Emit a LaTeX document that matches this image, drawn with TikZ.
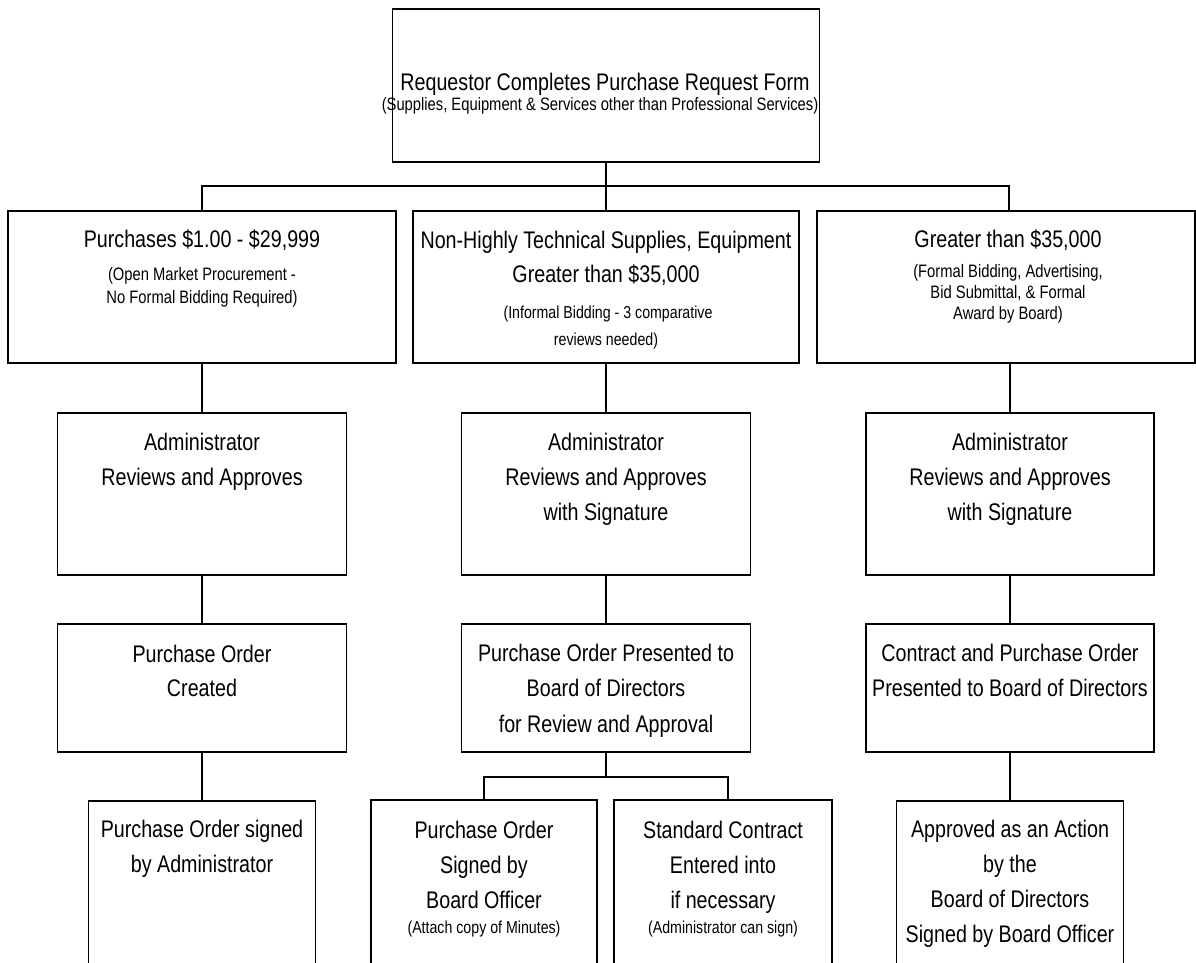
\documentclass[tikz,border=0pt]{standalone}
\usepackage{fontspec}
\setmainfont{Liberation Sans}[FakeStretch=0.82]
\begin{document}
\begin{tikzpicture}[x=1pt,y=-1pt,
  box/.style={draw=black, line width=1.4pt, rectangle, inner sep=0pt, fill=white},
  conn/.style={draw=black, line width=1.1pt},
  big/.style={font=\fontsize{24}{28}\selectfont, anchor=base, inner sep=0pt},
  small/.style={font=\fontsize{18}{22}\selectfont, anchor=base, inner sep=0pt},
  smaller/.style={font=\fontsize{17.3}{21}\selectfont, anchor=base, inner sep=0pt}]
\useasboundingbox (0,0) rectangle (1196,962);
\clip (0,0) rectangle (1196,962);
\fill[white] (0,0) rectangle (1196,962);

% ---------- connector junctions ----------
\coordinate (j1) at (606,186);
\coordinate (c2in) at (1009,211);
\coordinate (j2) at (606,777);
\coordinate (b5bin) at (728,800);

% ---------- boxes ----------
\node[box, minimum width=427pt, minimum height=153pt] (top) at (606,85.5) {};
\node[box, minimum width=388pt, minimum height=152pt] (a2) at (202,287) {};
\node[box, minimum width=386pt, minimum height=152pt] (b2) at (606,287) {};
\node[box, minimum width=378pt, minimum height=152pt] (c2) at (1006,287) {};
\node[box, minimum width=289pt, minimum height=162pt] (a3) at (202,494) {};
\node[box, minimum width=289pt, minimum height=162pt] (b3) at (606,494) {};
\node[box, minimum width=288pt, minimum height=162pt] (c3) at (1010,494) {};
\node[box, minimum width=289pt, minimum height=128pt] (a4) at (202,688) {};
\node[box, minimum width=289pt, minimum height=128pt] (b4) at (606,688) {};
\node[box, minimum width=288pt, minimum height=128pt] (c4) at (1010,688) {};
\node[box, minimum width=227pt, minimum height=180pt] (a5) at (202,891) {};
\node[box, minimum width=226pt, minimum height=180pt] (b5a) at (484,890) {};
\node[box, minimum width=218pt, minimum height=180pt] (b5b) at (723,890) {};
\node[box, minimum width=227pt, minimum height=180pt] (c5) at (1010,891) {};

% ---------- connectors ----------
\draw[conn] (top.south) -- (j1);
\draw[conn] (a2.north) |- (j1) -| (c2in);
\draw[conn] (j1) -- (b2.north);
\draw[conn] (a2.south) -- (a3.north);
\draw[conn] (b2.south) -- (b3.north);
\draw[conn] (c3.north |- c2.south) -- (c3.north);
\draw[conn] (a3.south) -- (a4.north);
\draw[conn] (b3.south) -- (b4.north);
\draw[conn] (c3.south) -- (c4.north);
\draw[conn] (a4.south) -- (a5.north);
\draw[conn] (c4.south) -- (c5.north);
\draw[conn] (b4.south) -- (j2);
\draw[conn] (b5a.north) |- (j2) -| (b5bin);

% ---------- texts ----------
\node[big] (t0a) at (605,90) {Requestor Completes Purchase Request Form};
\node[small] (t0b) at (600,110) {(Supplies, Equipment \& Services other than Professional Services)};

\node[big] (ta2a) at (202,247) {Purchases \$1.00 - \$29,999};
\node[small] (ta2b) at (202,280) {(Open Market Procurement -};
\node[small] (ta2c) at (202,303) {No Formal Bidding Required)};

\node[big] (tb2a) at (606,248) {Non-Highly Technical Supplies, Equipment};
\node[big] (tb2b) at (606,282) {Greater than \$35,000};
\node[smaller] (tb2c) at (608,318) {(Informal Bidding - 3 comparative};
\node[smaller] (tb2d) at (606,345) {reviews needed)};

\node[big] (tc2a) at (1008,247) {Greater than \$35,000};
\node[small] (tc2b) at (1008,277) {(Formal Bidding, Advertising,};
\node[small] (tc2c) at (1008,298) {Bid Submittal, \& Formal};
\node[small] (tc2d) at (1008,319) {Award by Board)};

\node[big] (ta3a) at (202,450) {Administrator};
\node[big] (ta3b) at (202,485) {Reviews and Approves};

\node[big] (tb3a) at (606,450) {Administrator};
\node[big] (tb3b) at (606,485) {Reviews and Approves};
\node[big] (tb3c) at (606,520) {with Signature};

\node[big] (tc3a) at (1010,450) {Administrator};
\node[big] (tc3b) at (1010,485) {Reviews and Approves};
\node[big] (tc3c) at (1010,520) {with Signature};

\node[big] (ta4a) at (202,662) {Purchase Order};
\node[big] (ta4b) at (202,696) {Created};

\node[big] (tb4a) at (606,661) {Purchase Order Presented to};
\node[big] (tb4b) at (606,696) {Board of Directors};
\node[big] (tb4c) at (606,732) {for Review and Approval};

\node[big] (tc4a) at (1010,661) {Contract and Purchase Order};
\node[big] (tc4b) at (1010,696) {Presented to Board of Directors};

\node[big] (ta5a) at (202,837) {Purchase Order signed};
\node[big] (ta5b) at (202,872) {by Administrator};

\node[big] (tb5aa) at (484,838) {Purchase Order};
\node[big] (tb5ab) at (484,873) {Signed by};
\node[big] (tb5ac) at (484,908) {Board Officer};
\node[smaller] (tb5ad) at (484,933) {(Attach copy of Minutes)};

\node[big] (tb5ba) at (723,838) {Standard Contract};
\node[big] (tb5bb) at (723,873) {Entered into};
\node[big] (tb5bc) at (723,908) {if necessary};
\node[smaller] (tb5bd) at (723,933) {(Administrator can sign)};

\node[big] (tc5a) at (1010,837) {Approved as an Action};
\node[big] (tc5b) at (1010,872) {by the};
\node[big] (tc5c) at (1010,907) {Board of Directors};
\node[big] (tc5d) at (1010,942) {Signed by Board Officer};
\end{tikzpicture}
\end{document}
